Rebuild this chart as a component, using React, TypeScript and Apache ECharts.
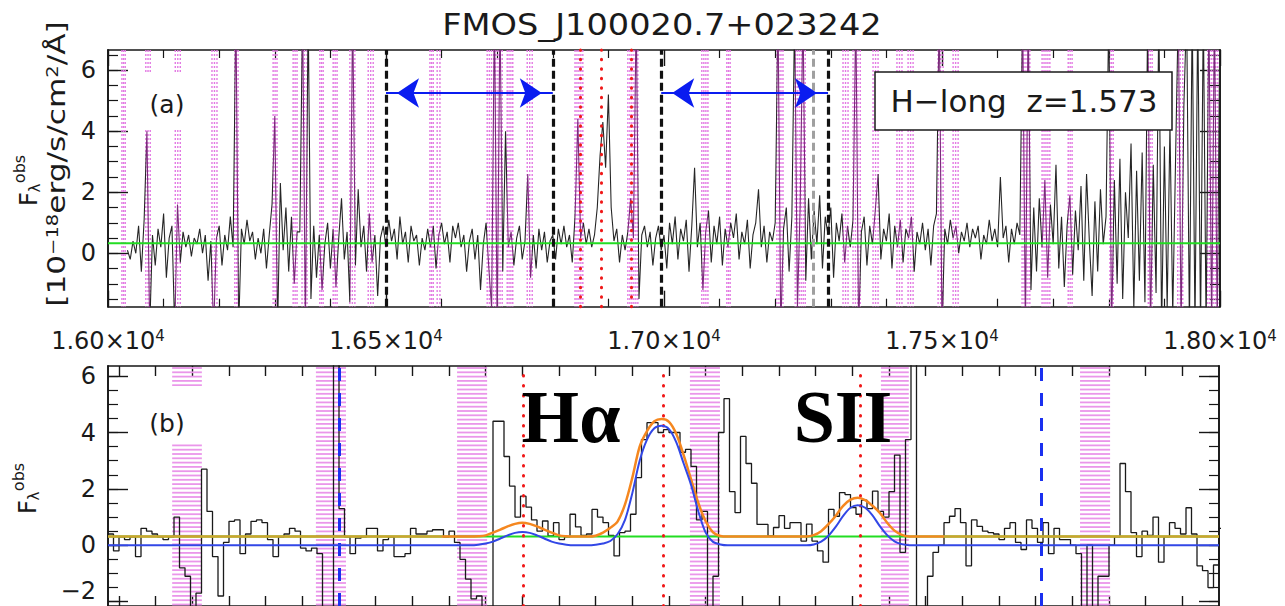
import React, { useEffect, useRef } from "react";
import * as echarts from "echarts";

const FONT = "DejaVu Sans";
const SERIF = "Liberation Serif";

const titleText = "FMOS_J100020.7+023242";
const legendText = "H\u2212long  z=1.573";
const panelLabels = ["(a)", "(b)"];
const lineLabels = ["H\u03b1", "SII"];

// ---------- top panel (a) ----------
const topXMin = 16000;
const topXMax = 18000;
const topXInterval = 500;
const topYMin = -1.75;
const topYMax = 6.66;
const topYMajor = [0, 2, 4, 6];
const topYMinor = [-1.5, -1, -0.5, 0, 0.5, 1, 1.5, 2, 2.5, 3, 3.5, 4, 4.5, 5, 5.5, 6, 6.5];
const topSpecStart = 16000;
const topSpecStep = 5;
const topSpec = [
  null, null, null, null, null, null, null, 0.1, -0.2, 0.4, 0.0, 0.9, -0.6, 1.1, 4.0, -2.5, 0.6, -0.4, 0.8, 0.2,
  1.3, -0.8, 0.5, 0.9, -2.5, 1.6, -0.3, 0.7, 0.2, 0.6, -0.1, 0.5, 0.3, 0.8, 0.0, 0.6, -0.9, 0.4, -2.5, 0.5,
  0.9, -0.4, 0.6, 0.1, 1.2, 0.2, 8, -2.5, 0.8, 0.3, 1.1, 0.4, 0.7, -0.2, 0.5, 0.0, 0.8, -0.5, 0.6, 1.6,
  4.5, -2.5, 2.3, 0.1, 1.5, -0.6, 1.2, -1.0, 0.7, 0.7, 8, -2.5, 8, -1.5, 0.9, -0.8, 0.6, -1.2, 0.3, 1.0,
  -0.5, 0.8, -1.1, 0.5, 1.8, -0.2, 0.7, -1.6, 8, -0.4, 2.1, 0.2, 0.9, -0.6, 1.3, -0.3, 0.6, -1.4, 0.5, 0.9,
  0.2, 1.1, 0.4, 0.8, -0.2, 1.2, 0.3, 0.7, -0.3, 0.9, 0.4, 0.6, -0.4, 0.5, 0.1, 0.8, 0.2, 0.9, -0.5, 0.6,
  1.0, 0.3, 0.7, -0.3, 0.9, 0.5, 1.0, 0.2, 0.6, -0.6, 0.4, 0.8, -0.2, 0.6, -1.2, 0.3, 1.0, -0.5, -1.8, 8,
  -2.5, 8, -0.6, 4.0, 0.2, 0.7, -0.4, 0.5, 0.9, -0.2, 0.4, 2.6, -0.8, 0.6, -0.5, 0.8, 0.1, 0.7, -0.3, 0.4,
  0.6, -0.2, 0.8, 0.3, 0.9, 0.2, 0.6, -0.3, 1.2, 4.4, 0.5, 1.0, 0.3, 0.8, 0.2, 0.6, 1.5, 3.2, 4.3, 2.8,
  5.2, 1.5, 0.4, 0.8, -0.3, 0.6, 0.1, 0.7, 1.8, 0.5, 8, -1.5, 0.6, 0.9, 0.2, 0.7, -0.4, 0.5, 0.9, 0.1,
  0.6, -0.5, 1.0, 0.3, 1.2, -0.2, 0.8, 0.4, 1.1, -0.6, 0.9, 2.8, 0.2, 1.0, -1.2, 0.7, 1.4, -0.3, 0.9, 0.3,
  1.2, -0.4, 0.8, 0.2, 1.0, 0.5, 1.3, -0.2, 0.7, 0.3, 1.1, -0.5, 0.6, 1.0, 2.1, 0.2, 0.9, -0.3, 0.7, 0.4,
  1.0, 8, -2.5, 0.8, 1.5, -0.6, 1.2, 8, -1.8, 1.6, 8, -0.9, 1.8, -0.2, 1.4, 0.3, 1.9, -0.5, 1.2, 0.6,
  1.5, -0.8, 1.0, 0.4, 1.3, -0.3, 0.9, 0.2, 1.1, 8, -2.5, 0.7, 1.2, -0.4, 0.9, 0.3, 1.4, 2.6, -0.2, 0.8,
  0.4, 1.3, -0.5, 0.9, 0.2, 1.1, -0.3, 0.8, 0.5, 1.2, -0.6, 0.7, 0.3, 1.0, 0.1, 0.8, -0.4, 0.9, 1.3, 8,
  -2.5, 0.8, 0.3, 1.1, 0.5, 0.9, 0.0, 0.7, 0.4, 1.0, 0.2, 0.8, 0.5, 0.9, -0.2, 0.6, 0.3, 1.1, 0.4, 0.8,
  0.2, 2.5, 0.5, 0.9, -0.3, 0.8, 0.3, 1.0, 0.6, 8, -2.5, 8, -1.2, 1.5, -0.6, 1.8, 0.2, 2.4, -0.8, 1.6,
  0.3, 2.9, -0.5, 1.2, -1.1, 0.9, 1.9, -0.7, 1.4, 0.1, 2.2, -0.9, 2.6, 0.4, -1.4, 1.7, -0.6, 2.1, 0.3, 1.2,
  8, -2.5, 2.4, -1.0, 3.1, -1.5, 2.0, 0.5, 3.6, -1.8, 2.7, -0.9, 3.3, -1.6, 8, -2.5, 2.9, -1.3, 8, -2.5,
  3.5, -1.8, 4.2, -2.0, 3.0, 8, -2.5, 4.8, 8, -2.5, 8, -2.5, 8, -2.5, 8, -2.5, 8, -2.5, 8, -2.5, 8,
];
const topContinuum = 0.33;
const topMasks = [
  [16025, 16031], [16068, 16076], [16121, 16130], [16187, 16196], [16228, 16234], [16297, 16304],
  [16333, 16340], [16349, 16358], [16381, 16387], [16405, 16412], [16435, 16444], [16468, 16477],
  [16579, 16585], [16592, 16597], [16682, 16709], [16718, 16728], [16754, 16763], [16840, 16854],
  [16935, 16953], [17068, 17079], [17113, 17119], [17203, 17214], [17236, 17254], [17322, 17331],
  [17340, 17353], [17376, 17385], [17419, 17428], [17439, 17448], [17493, 17502], [17520, 17529],
  [17644, 17658], [17680, 17694], [17727, 17734], [17802, 17808], [17871, 17878], [17924, 17933],
  [17978, 17996],
];
const topLineWaves = [16849, 16888, 16941];
const topWindowEdges = [16500, 16800, 16995, 17295];
const topGrayEdges = [17268];
const topArrows = [[16500, 16800], [16995, 17295]];
const topArrowLevel = 5.25;

// ---------- bottom panel (b) ----------
const botXMin = 16747;
const botXMax = 17050;
const botYMin = -2.155;
const botYMax = 6.36;
const botXTicks = [
  16750, 16760, 16770, 16780, 16790, 16800, 16810, 16820, 16830, 16840, 16850, 16860, 16870, 16880, 16890,
  16900, 16910, 16920, 16930, 16940, 16950, 16960, 16970, 16980, 16990, 17000, 17010, 17020, 17030, 17040,
];
const botYMajor = [-2, 0, 2, 4, 6];
const botYMinor = [-2, -1.5, -1, -0.5, 0, 0.5, 1, 1.5, 2, 2.5, 3, 3.5, 4, 4.5, 5, 5.5, 6];
const botBinStart = 16747;
const botBinWidth = 1.5;
const botSpec = [
  0.4, -0.2, 0.3, 0.2, 0.3, -0.4, 0.6, 0.5, 0.4, 0.3,
  0.2, 0.3, 1.0, -0.8, -1.1, -3.0, -1.7, 2.7, 1.2, -0.4,
  -1.8, 0.1, 0.85, 0.9, -0.3, 0.4, 0.85, 0.9, 0.8, 0.2,
  -0.4, 0.3, 0.4, 0.6, 0.5, -0.1, -0.2, -0.1, -0.3, -3.0,
  -3.0, 12, 1.3, 0.3, -0.3, 0.25, 0.3, 0.6, 0.6, -0.2,
  0.2, 0.3, -0.4, -0.4, -0.3, 0.6, 0.4, 0.4, 0.5, 0.55,
  0.55, 0.3, 0.5, 0.1, -0.5, -1.2, -1.9, -1.8, -2.5, -3.0,
  4.4, 4.4, 3.15, 2.1, 1.0, 1.74, 1.35, 0.9, 0.5, 0.86,
  0.33, 0.8, 0.2, 0.3, 1.1, 0.65, 0.35, 0.4, 1.27, 1.0,
  0.8, 0.35, -0.38, 0.45, 0.5, 1.1, 2.4, 3.75, 4.35, 4.35,
  4.0, 4.1, 4.0, 4.0, 3.3, 3.4, 2.8, 0.9, 1.2, -3.0,
  -1.1, 4.0, 5.2, 1.9, 1.16, 3.86, 2.9, 2.2, 0.74, 0.74,
  0.33, 0.63, 1.05, 0.6, 0.8, 0.8, 0.15, 0.75, 0.15, -0.2,
  -0.6, 1.27, 1.03, 1.87, 1.8, 1.34, 1.1, 1.6, 1.3, 1.92,
  1.2, 1.0, 1.9, 3.2, -0.25, 3.75, 12, -3, -3, -1.1,
  -0.25, 0.0, 0.8, 1.03, 1.3, 0.8, -0.73, 0.9, 0.67, 0.5,
  0.45, 0.4, 0.2, 0.6, 0.8, 0.1, -0.15, 0.9, 0.6, 0.1,
  0.8, -0.3, 0.6, 0.2, 0.2, 0.0, -0.3, -3, 0.0, -3,
  -1.1, -1.1, 0.0, 0.3, 2.9, 1.9, 0.45, -0.4, 0.5, 0.35,
  1.0, -0.6, 0.3, 0.8, 0.6, 0.4, 1.33, 0.4, -0.73, -0.9,
  -1.5, -0.7, 0.6,
];
const botContinuum = 0.31;
const botFitX = [
  16747,
  16846, 16848, 16850, 16852, 16854, 16856, 16858, 16860, 16862, 16864, 16866, 16868, 16870, 16872, 16874,
  16878, 16880, 16882, 16884, 16886, 16888, 16890, 16892, 16894, 16896, 16898,
  16900, 16902, 16904, 16906, 16908, 16910, 16912, 16914, 16916, 16918,
  16937.5, 16939.5, 16941.5, 16943.5, 16945.5, 16947.5, 16949.5, 16951.5, 16953.5, 16955.5, 16957.5,
  16959.5, 16961.5, 16963.5, 16965.5,
  17050,
];
const botFitTotal = [
  0.31,
  0.31, 0.32, 0.35, 0.45, 0.555, 0.67, 0.76, 0.8, 0.76, 0.67, 0.555, 0.45, 0.35, 0.32, 0.31,
  0.31, 0.34, 0.45, 0.62, 0.85, 1.45, 2.4, 3.5, 4.05, 4.4, 4.48,
  4.38, 3.95, 3.2, 2.35, 1.5, 0.85, 0.46, 0.33, 0.31, 0.31,
  0.31, 0.36, 0.5, 0.75, 1.05, 1.4, 1.62, 1.69, 1.6, 1.4, 1.15,
  0.8, 0.52, 0.37, 0.31,
  0.31,
];
const botFitLines = [
  0,
  0, 0.02, 0.06, 0.13, 0.24, 0.35, 0.44, 0.47, 0.44, 0.35, 0.24, 0.13, 0.06, 0.02, 0,
  0, 0.02, 0.06, 0.15, 0.4, 0.9, 1.85, 3.0, 3.75, 4.15, 4.24,
  4.12, 3.65, 2.9, 2.15, 1.2, 0.45, 0.12, 0.03, 0, 0,
  0, 0.03, 0.13, 0.34, 0.66, 1.04, 1.33, 1.42, 1.33, 1.06, 0.68,
  0.36, 0.14, 0.04, 0,
  0,
];
const botFitWindow = [16838, 16975];
const botMasks = [
  [16764.5, 16772.6], [16803.7, 16811.9], [16842.2, 16850.4],
  [16905.7, 16913.9], [16957.8, 16965.4], [17012.1, 17020.3],
];
const botLineWaves = [16860.3, 16898.4, 16952.1];
const botBlueDashed = [16810, 17001.6];

const INK = "#161616";
const frameLine = { show: true, onZero: false, lineStyle: { color: INK, width: 1.6 } };
const minus = (v: number) => (v < 0 ? "\u2212" + Math.abs(v) : String(v));

function renderTopMask(params: any, api: any) {
  const cs = params.coordSys;
  const xa = api.coord([api.value(0), 0])[0];
  const xb = api.coord([api.value(1), 0])[0];
  const n = Math.max(1, Math.round((xb - xa) / 2.2));
  const children: any[] = [];
  for (let i = 0; i <= n; i++) {
    const x = xa + ((xb - xa) * i) / n;
    children.push({
      type: "line",
      shape: { x1: x, y1: cs.y, x2: x, y2: cs.y + cs.height },
      style: { stroke: "#E37AE3", lineWidth: 1.4, lineDash: [2, 2] },
    });
  }
  return { type: "group", children };
}

function renderBotMask(params: any, api: any) {
  const cs = params.coordSys;
  const xa = api.coord([api.value(0), 0])[0];
  const xb = api.coord([api.value(1), 0])[0];
  const children: any[] = [];
  for (let y = cs.y + 2; y < cs.y + cs.height; y += 4.3) {
    children.push({
      type: "line",
      shape: { x1: xa, y1: y, x2: xb, y2: y },
      style: { stroke: "#EA96EA", lineWidth: 1.8 },
    });
  }
  return { type: "group", children };
}

function axisBase(gridIndex: number, position: string, min: number, max: number) {
  return {
    gridIndex,
    type: "value",
    position,
    min,
    max,
    axisLine: frameLine,
    splitLine: { show: false },
    axisLabel: { show: false },
  };
}

export default function App() {
  const ref = useRef<HTMLDivElement>(null);

  useEffect(() => {
    document.body.style.margin = "0";
    if (!ref.current) return;
    const chart = echarts.init(ref.current, null, { renderer: "svg" });

    const topXTickCommon = {
      interval: topXInterval,
      axisTick: { show: true, inside: true, length: 16, lineStyle: { color: INK, width: 1.4 } },
      minorTick: { show: true, splitNumber: 5, length: 8, lineStyle: { color: INK, width: 1.2 } },
      minorSplitLine: { show: false },
    };

    const yMajor = (g: number, pos: string, min: number, max: number, vals: number[], labels: boolean) => ({
      ...axisBase(g, pos, min, max),
      axisTick: { show: true, inside: true, length: 20, customValues: vals, lineStyle: { color: INK, width: 1.4 } },
      axisLabel: labels
        ? {
            show: true,
            customValues: vals,
            margin: 12,
            fontFamily: FONT,
            fontSize: 24,
            color: "#1a1a1a",
            formatter: (v: number) => (v === botYMajor[0] ? `{lo|${minus(v)}}` : minus(v)),
            rich: { lo: { fontFamily: FONT, fontSize: 24, color: "#1a1a1a", padding: [0, 0, 22, 0] } },
          }
        : { show: false },
    });
    const yMinor = (g: number, pos: string, min: number, max: number, vals: number[]) => ({
      ...axisBase(g, pos, min, max),
      axisTick: { show: true, inside: true, length: 10, customValues: vals, lineStyle: { color: INK, width: 1.2 } },
    });

    const option: any = {
      animation: false,
      backgroundColor: "#ffffff",
      grid: [
        { left: 108, top: 50, width: 1112, height: 256.7 },
        { left: 108, top: 366, width: 1111, height: 241 },
      ],
      xAxis: [
        {
          ...axisBase(0, "bottom", topXMin, topXMax),
          ...topXTickCommon,
          axisLabel: {
            show: true,
            margin: 22,
            fontFamily: FONT,
            fontSize: 24,
            color: "#1a1a1a",
            formatter: (v: number) => `{m|${(v / 1e4).toFixed(2)}\u00d710}{s|4}`,
            rich: {
              m: { fontFamily: FONT, fontSize: 24, color: "#1a1a1a", verticalAlign: "bottom" },
              s: { fontFamily: FONT, fontSize: 15, color: "#1a1a1a", verticalAlign: "top" },
            },
          },
        },
        { ...axisBase(0, "top", topXMin, topXMax), ...topXTickCommon },
        {
          ...axisBase(1, "bottom", botXMin, botXMax),
          axisTick: { show: true, inside: true, length: 10, customValues: botXTicks, lineStyle: { color: INK, width: 1.4 } },
        },
        {
          ...axisBase(1, "top", botXMin, botXMax),
          axisTick: { show: true, inside: true, length: 10, customValues: botXTicks, lineStyle: { color: INK, width: 1.4 } },
        },
      ],
      yAxis: [
        yMajor(0, "left", topYMin, topYMax, topYMajor, true),
        yMinor(0, "left", topYMin, topYMax, topYMinor),
        yMajor(0, "right", topYMin, topYMax, topYMajor, false),
        yMinor(0, "right", topYMin, topYMax, topYMinor),
        yMajor(1, "left", botYMin, botYMax, botYMajor, true),
        yMinor(1, "left", botYMin, botYMax, botYMinor),
        yMajor(1, "right", botYMin, botYMax, botYMajor, false),
        yMinor(1, "right", botYMin, botYMax, botYMinor),
      ],
      visualMap: [
        {
          type: "piecewise",
          show: false,
          seriesIndex: 1,
          dimension: 0,
          pieces: topMasks.map(([a, b]) => ({ gte: a, lte: b, color: "#7A2C7A" })),
          outOfRange: { color: "#262626" },
        },
        {
          type: "piecewise",
          show: false,
          seriesIndex: 6,
          dimension: 0,
          pieces: [{ gte: botFitWindow[0], lte: botFitWindow[1], color: "#F5871F" }],
          outOfRange: { color: "#CFA22E" },
        },
      ],
      series: [
        {
          type: "custom",
          name: "topMasks",
          xAxisIndex: 0,
          yAxisIndex: 0,
          silent: true,
          clip: true,
          z: 1,
          encode: { x: [0, 1], y: 2 },
          data: topMasks.map(([a, b]) => [a, b, 0]),
          renderItem: renderTopMask,
        },
        {
          type: "line",
          name: "topSpectrum",
          xAxisIndex: 0,
          yAxisIndex: 0,
          silent: true,
          symbol: "none",
          showSymbol: false,
          clip: true,
          z: 3,
          lineStyle: { width: 1.1 },
          data: topSpec.map((v, i) => [topSpecStart + topSpecStep * i, v]),
        },
        {
          type: "line",
          name: "topContinuum",
          xAxisIndex: 0,
          yAxisIndex: 0,
          silent: true,
          symbol: "none",
          z: 4,
          lineStyle: { width: 2, color: "#22DD22" },
          data: [
            [topXMin, topContinuum],
            [topXMax, topContinuum],
          ],
          markLine: {
            silent: true,
            symbol: ["none", "none"],
            label: { show: false },
            animation: false,
            data: [
              ...topGrayEdges.map((x) => ({ xAxis: x, lineStyle: { color: "#a0a0a0", width: 3, type: [8, 4] } })),
              ...topWindowEdges.map((x) => ({ xAxis: x, lineStyle: { color: "#111", width: 3.2, type: [8, 4] } })),
              ...topLineWaves.map((x) => ({
                xAxis: x,
                lineStyle: { color: "#F01818", width: 3, type: [0.5, 9], cap: "round" },
              })),
              ...topArrows.map(([a, b]) => [
                {
                  coord: [a, topArrowLevel],
                  symbol: "arrow",
                  symbolSize: [22, 22],
                  symbolOffset: [0, 11],
                  lineStyle: { color: "#0A1CF0", width: 2, type: "solid" },
                },
                { coord: [b, topArrowLevel], symbol: "arrow", symbolSize: [22, 22], symbolOffset: [0, 11] },
              ]),
            ],
          },
        },
        {
          type: "custom",
          name: "botMasks",
          xAxisIndex: 2,
          yAxisIndex: 4,
          silent: true,
          clip: true,
          z: 1,
          encode: { x: [0, 1], y: 2 },
          data: botMasks.map(([a, b]) => [a, b, 0]),
          renderItem: renderBotMask,
        },
        {
          type: "line",
          name: "botSpectrum",
          xAxisIndex: 2,
          yAxisIndex: 4,
          silent: true,
          symbol: "none",
          step: "end",
          clip: true,
          z: 3,
          lineStyle: { width: 1.3, color: "#1a1a1a" },
          data: [
            ...botSpec.map((v, i) => [botBinStart + botBinWidth * i, v]),
            [botBinStart + botBinWidth * botSpec.length, botSpec[botSpec.length - 1]],
          ],
        },
        {
          type: "line",
          name: "botContinuum",
          xAxisIndex: 2,
          yAxisIndex: 4,
          silent: true,
          symbol: "none",
          z: 3,
          lineStyle: { width: 2, color: "#22DD22" },
          data: [
            [botXMin, botContinuum],
            [botXMax, botContinuum],
          ],
          markLine: {
            silent: true,
            symbol: ["none", "none"],
            label: { show: false },
            animation: false,
            data: [
              ...botBlueDashed.map((x) => ({ xAxis: x, lineStyle: { color: "#1A30F0", width: 3, type: [13, 12] } })),
              ...botLineWaves.map((x) => ({
                xAxis: x,
                lineStyle: { color: "#F01818", width: 3, type: [0.5, 9.5], cap: "round" },
              })),
            ],
          },
        },
        {
          type: "line",
          name: "botFitTotal",
          xAxisIndex: 2,
          yAxisIndex: 4,
          silent: true,
          symbol: "none",
          smooth: 0.3,
          z: 5,
          lineStyle: { width: 2.5 },
          data: botFitX.map((x, i) => [x, botFitTotal[i]]),
        },
        {
          type: "line",
          name: "botFitLines",
          xAxisIndex: 2,
          yAxisIndex: 4,
          silent: true,
          symbol: "none",
          smooth: 0.3,
          z: 5,
          lineStyle: { width: 2, color: "#3247E6" },
          data: botFitX.map((x, i) => [x, botFitLines[i]]),
        },
      ],
      graphic: [
        {
          type: "text",
          x: 662,
          y: 25,
          z: 100,
          scaleX: 1.12,
          style: {
            text: titleText,
            fontFamily: FONT,
            fontSize: 30,
            fill: "#1a1a1a",
            textAlign: "center",
            textVerticalAlign: "middle",
          },
        },
        {
          type: "rect",
          z: 100,
          shape: { x: 875, y: 72, width: 297, height: 58 },
          style: { fill: "#ffffff", stroke: "#1a1a1a", lineWidth: 1.5 },
        },
        {
          type: "text",
          x: 1024,
          y: 101,
          z: 101,
          style: {
            text: legendText,
            fontFamily: FONT,
            fontSize: 31,
            fill: "#1a1a1a",
            textAlign: "center",
            textVerticalAlign: "middle",
          },
        },
        { type: "rect", z: 100, shape: { x: 136, y: 73, width: 66, height: 57 }, style: { fill: "#ffffff" } },
        {
          type: "text",
          x: 167,
          y: 104,
          z: 101,
          style: { text: panelLabels[0], fontFamily: FONT, fontSize: 25, fill: "#1a1a1a", textAlign: "center", textVerticalAlign: "middle" },
        },
        { type: "rect", z: 100, shape: { x: 136, y: 386, width: 70, height: 57 }, style: { fill: "#ffffff" } },
        {
          type: "text",
          x: 167,
          y: 423,
          z: 101,
          style: { text: panelLabels[1], fontFamily: FONT, fontSize: 25, fill: "#1a1a1a", textAlign: "center", textVerticalAlign: "middle" },
        },
        {
          type: "text",
          x: 571,
          y: 417,
          z: 101,
          style: { text: lineLabels[0], fontFamily: SERIF, fontWeight: "bold", fontSize: 74, fill: "#000", textAlign: "center", textVerticalAlign: "middle" },
        },
        {
          type: "text",
          x: 843,
          y: 417,
          z: 101,
          style: { text: lineLabels[1], fontFamily: SERIF, fontWeight: "bold", fontSize: 74, fill: "#000", textAlign: "center", textVerticalAlign: "middle" },
        },
        {
          type: "text",
          x: 57,
          y: 164,
          z: 101,
          rotation: Math.PI / 2,
          scaleX: 1.3,
          style: {
            text: "{m|[10}{s|\u221218}{m|erg/s/cm}{s|2}{m|/\u00c5]}",
            rich: {
              m: { fontFamily: FONT, fontSize: 24, fill: "#1a1a1a", verticalAlign: "bottom" },
              s: { fontFamily: FONT, fontSize: 15, fill: "#1a1a1a", verticalAlign: "top" },
            },
            textAlign: "center",
            textVerticalAlign: "middle",
          },
        },
        {
          type: "group",
          x: 28.5,
          y: 199,
          rotation: Math.PI / 2,
          z: 101,
          children: [
            { type: "text", x: 0, y: 0, style: { text: "F", fontFamily: FONT, fontSize: 24, fill: "#1a1a1a", textAlign: "center", textVerticalAlign: "middle" } },
            { type: "text", x: 30, y: -9, style: { text: "obs", fontFamily: FONT, fontSize: 16, fill: "#1a1a1a", textAlign: "center", textVerticalAlign: "middle" } },
            { type: "text", x: 11, y: 6, style: { text: "\u03bb", fontFamily: FONT, fontSize: 15, fill: "#1a1a1a", textAlign: "center", textVerticalAlign: "middle" } },
          ],
        },
        {
          type: "group",
          x: 27.5,
          y: 507,
          rotation: Math.PI / 2,
          z: 101,
          children: [
            { type: "text", x: 0, y: 0, style: { text: "F", fontFamily: FONT, fontSize: 24, fill: "#1a1a1a", textAlign: "center", textVerticalAlign: "middle" } },
            { type: "text", x: 30, y: -9, style: { text: "obs", fontFamily: FONT, fontSize: 16, fill: "#1a1a1a", textAlign: "center", textVerticalAlign: "middle" } },
            { type: "text", x: 11, y: 6, style: { text: "\u03bb", fontFamily: FONT, fontSize: 15, fill: "#1a1a1a", textAlign: "center", textVerticalAlign: "middle" } },
          ],
        },
      ],
    };

    chart.setOption(option);
    return () => chart.dispose();
  }, []);

  return <div ref={ref} style={{ width: 1285, height: 606 }} />;
}
